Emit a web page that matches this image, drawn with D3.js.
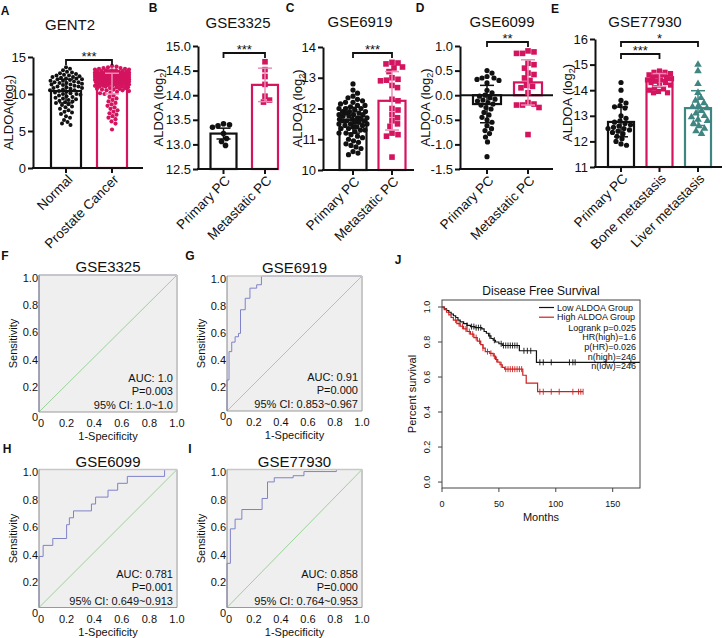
<!DOCTYPE html>
<html><head><meta charset="utf-8">
<script src="https://cdn.jsdelivr.net/npm/d3@7/dist/d3.min.js"></script>
<style>
body{margin:0;background:#fff;}
svg text{font-family:"Liberation Sans",Arial,Helvetica,sans-serif;fill:#111;}
</style></head><body>
<svg id="fig" width="726" height="638" xmlns="http://www.w3.org/2000/svg"></svg>
<script>
// ================= DATA =================
// Panel A – GENT2
const gentCats = ["Normal", "Prostate Cancer"];
const gentNormal = [13.6,13.4,13.2,13.0,12.9,12.8,12.7,12.6,12.5,12.5,12.4,12.3,12.3,12.2,12.1,12.1,12.0,12.0,11.9,11.8,11.8,11.7,11.6,11.6,11.5,11.5,11.4,11.3,11.3,11.2,11.1,11.0,11.0,10.9,10.8,10.8,10.7,10.6,10.5,10.5,10.4,10.3,10.2,10.1,10.0,10.0,9.9,9.8,9.7,9.6,9.5,9.4,9.3,9.2,9.1,9.0,8.9,8.8,8.6,8.5,8.3,8.2,8.0,7.8,7.6,7.5,7.3,7.0,6.8,6.5,6.2,6.0,5.8];
const gentCancer = [13.8,13.7,13.6,13.5,13.5,13.4,13.4,13.3,13.3,13.2,13.2,13.2,13.1,13.1,13.1,13.0,13.0,13.0,13.0,
12.9,12.9,12.9,12.9,12.8,12.8,12.8,12.8,12.8,12.7,12.7,12.7,12.7,12.7,12.7,
12.6,12.6,12.6,12.6,12.6,12.6,12.5,12.5,12.5,12.5,12.5,12.5,12.5,
12.4,12.4,12.4,12.4,12.4,12.4,12.4,12.3,12.3,12.3,12.3,12.3,12.3,12.3,
12.2,12.2,12.2,12.2,12.2,12.2,12.2,12.1,12.1,12.1,12.1,12.1,12.1,12.1,
12.0,12.0,12.0,12.0,12.0,12.0,11.9,11.9,11.9,11.9,11.9,11.9,
11.8,11.8,11.8,11.8,11.8,11.7,11.7,11.7,11.7,11.7,11.6,11.6,11.6,11.6,
11.5,11.5,11.5,11.5,11.4,11.4,11.4,11.4,11.3,11.3,11.3,11.2,11.2,11.2,11.1,11.1,11.1,11.0,11.0,11.0,
10.9,10.9,10.8,10.8,10.7,10.7,10.6,10.6,10.5,10.5,10.4,10.3,10.2,10.1,10.0,
9.8,9.6,9.4,9.2,9.0,8.8,8.6,8.4,8.2,8.0,7.8,7.6,7.4,7.2,7.0,6.8,6.6,6.3,6.0,5.2];
const gentMean = [10.4, 11.4];
const gentSD = [1.6, 1.4];
const gentTicks = [0, 5, 10, 15];

// Panel B – GSE3325
const pmCats = ["Primary PC", "Metastatic PC"];
const g3325Primary = [13.4,13.42,13.38,13.35,13.22,13.12,12.98,13.06];
const g3325Meta = [14.68,14.52,14.38,14.22,13.98,13.9,13.86];
const g3325Mean = [13.22, 14.21];
const g3325SD = [0.11, 0.34];
const g3325Ticks = [12.5, 13.0, 13.5, 14.0, 14.5, 15.0];

// Panel C – GSE6919
const g6919Primary = [12.8,12.6,12.5,12.4,12.35,12.3,12.25,12.2,12.2,12.15,12.1,12.1,12.05,12.0,12.0,12.0,11.95,11.9,11.9,11.9,11.85,11.85,11.8,11.8,11.8,11.75,11.75,11.7,11.7,11.7,11.65,11.65,11.6,11.6,11.6,11.55,11.55,11.5,11.5,11.5,11.45,11.45,11.4,11.4,11.35,11.35,11.3,11.3,11.25,11.2,11.2,11.15,11.1,11.05,11.0,10.95,10.9,10.85,10.8,10.75,10.7,10.6,10.55,10.5];
const g6919Meta = [13.5,13.48,13.45,13.35,13.32,13.2,13.0,12.95,12.92,12.9,12.75,12.68,12.3,12.25,12.0,11.95,11.8,11.7,11.6,11.5,11.42,11.2,11.15,11.1,10.42];
const g6919Mean = [11.62, 12.25];
const g6919SD = [0.42, 0.95];
const g6919Ticks = [10, 11, 12, 13, 14];

// Panel D – GSE6099
const g6099Primary = [0.5,0.45,0.38,0.35,0.35,0.32,0.3,0.25,0.1,0.05,0.0,-0.02,-0.05,-0.08,-0.1,-0.12,-0.15,-0.18,-0.2,-0.25,-0.28,-0.35,-0.4,-0.45,-0.5,-0.55,-0.62,-0.68,-0.72,-0.78,-0.85,-0.95,-1.25];
const g6099Meta = [0.9,0.88,0.85,0.85,0.65,0.62,0.55,0.45,0.42,0.35,0.3,0.2,0.18,0.15,0.05,-0.15,-0.18,-0.2,-0.2,-0.25,-0.8];
const g6099Mean = [-0.18, 0.26];
const g6099SD = [0.38, 0.46];
const g6099Ticks = [-1.5, -1.0, -0.5, 0.0, 0.5, 1.0];

// Panel E – GSE77930
const eCats = ["Primary PC", "Bone metastasis", "Liver metastasis"];
const g77930Primary = [14.3,14.0,13.6,13.5,13.4,13.35,13.3,13.0,12.9,12.8,12.75,12.7,12.65,12.6,12.55,12.5,12.5,12.45,12.4,12.35,12.3,12.2,12.1,12.0,11.9,11.85];
const g77930Bone = [14.75,14.7,14.7,14.65,14.6,14.6,14.55,14.5,14.5,14.45,14.4,14.4,14.35,14.3,14.3,14.2,14.2,14.1,14.05,14.0,13.95,13.9,13.9];
const g77930Liver = [15.0,14.75,14.25,13.9,13.7,13.6,13.5,13.4,13.35,13.3,13.2,13.1,13.0,12.95,12.85,12.8,12.7,12.6,12.5,12.4,12.3];
const g77930Mean = [12.76, 14.4, 13.3];
const g77930SD = [0.58, 0.25, 0.68];
const g77930Ticks = [11, 12, 13, 14, 15, 16];

// ROC panels
const rocTitles = ["GSE3325", "GSE6919", "GSE6099", "GSE77930"];
const rocF = [[0,0],[0,1],[1,1]];
const rocG = [[0,0],[0,0.23],[0.015,0.23],[0.015,0.44],[0.035,0.44],[0.035,0.51],[0.06,0.51],[0.06,0.55],[0.085,0.55],[0.085,0.575],[0.1,0.575],[0.1,0.75],[0.135,0.75],[0.135,0.835],[0.17,0.835],[0.17,0.91],[0.22,0.91],[0.22,0.935],[0.255,0.935],[0.255,1],[1,1]];
const rocH = [[0,0],[0,0.37],[0.03,0.37],[0.03,0.45],[0.1,0.45],[0.1,0.5],[0.2,0.5],[0.2,0.6],[0.22,0.6],[0.22,0.65],[0.25,0.65],[0.25,0.7],[0.38,0.7],[0.38,0.75],[0.41,0.75],[0.41,0.8],[0.5,0.8],[0.5,0.85],[0.57,0.85],[0.57,0.9],[0.64,0.9],[0.64,0.95],[0.91,0.95],[0.91,1],[1,1]];
const rocI = [[0,0],[0,0.32],[0.025,0.32],[0.025,0.57],[0.06,0.57],[0.06,0.64],[0.11,0.64],[0.11,0.71],[0.26,0.71],[0.26,0.79],[0.3,0.79],[0.3,0.91],[0.35,0.91],[0.35,0.94],[0.49,0.94],[0.49,0.955],[0.57,0.955],[0.57,0.985],[0.81,0.985],[0.81,1],[1,1]];
const rocAUC = ["AUC: 1.0", "AUC: 0.91", "AUC: 0.781", "AUC: 0.858"];
const rocP = ["P=0.003", "P=0.000", "P=0.001", "P=0.000"];
const rocCI = ["95% CI: 1.0~1.0", "95% CI: 0.853~0.967", "95% CI: 0.649~0.913", "95% CI: 0.764~0.953"];
const rocTicks = [0, 0.2, 0.4, 0.6, 0.8, 1.0];

// Survival panel J
const survLow = [[0,1.0],[2,0.99],[4,0.98],[6,0.97],[8,0.96],[10,0.95],[12,0.94],[14,0.925],[16,0.915],[19,0.905],[22,0.895],[25,0.888],[29,0.882],[35,0.875],[37,0.86],[39,0.85],[41,0.835],[43,0.82],[45,0.81],[47,0.8],[50,0.79],[53,0.78],[68,0.75],[83,0.684],[174,0.684]];
const survHigh = [[0,1.0],[2,0.985],[4,0.97],[6,0.955],[8,0.94],[10,0.925],[13,0.905],[16,0.89],[19,0.875],[22,0.86],[25,0.845],[28,0.825],[31,0.805],[34,0.785],[36,0.765],[38,0.745],[42,0.735],[45,0.72],[47,0.7],[49,0.685],[51,0.67],[53,0.655],[55,0.645],[71,0.61],[74,0.565],[84,0.516],[124,0.516]];
const censorLow = [22,26,28,30,32,34,42,46,52,54,56,58,60,62,64,66,72,75,78,86,89,96,112,115,117,144,166];
const censorHigh = [12,15,18,21,24,27,30,33,36,40,43,46,48,52,56,58,60,62,64,66,68,70,86,89,96,103,115,120,122,124];
const survTicksX = [0, 50, 100, 150];
const survTicksY = [0, 0.2, 0.4, 0.6, 0.8, 1.0];
const survLegend = ["Low ALDOA Group", "High ALDOA Group"];
const survStats = ["Logrank p=0.025", "HR(high)=1.6", "p(HR)=0.026", "n(high)=246", "n(low)=246"];

// ================= DRAWING =================
const svg = d3.select('#fig');
const PINK = '#d4145f', PINK_LT = '#ea8fb7', TEAL = '#3f8682', BLK = '#111';

function swarm(vals, y, cx, rad, maxHalf) {
  const pts = vals.map(v => ({v, py: y(v)})).sort((a, b) => a.py - b.py);
  const placed = [];
  const cands = [0];
  for (let k = 0.5; k <= maxHalf; k += 0.5) cands.push(k, -k);
  const minD = 2 * rad;
  pts.forEach(p => {
    const near = placed.filter(q => Math.abs(q.py - p.py) < minD);
    let chosen = null, bestScore = -1, bestOff = 0;
    for (const off of cands) {
      let md = Infinity;
      for (const q of near) { const d = Math.hypot(q.dx - off, q.py - p.py); if (d < md) md = d; }
      if (md >= minD) { chosen = off; break; }
      if (md > bestScore + 0.01) { bestScore = md; bestOff = off; }
    }
    p.dx = chosen === null ? bestOff : chosen;
    p.px = cx + p.dx;
    placed.push(p);
  });
  return pts;
}

function drawMarks(g, pts, shape, color, s) {
  if (shape === 'circle') {
    g.selectAll(null).data(pts).join('circle').attr('cx', d => d.px).attr('cy', d => d.py).attr('r', s).attr('fill', color);
  } else if (shape === 'square') {
    g.selectAll(null).data(pts).join('rect').attr('x', d => d.px - s).attr('y', d => d.py - s).attr('width', 2 * s).attr('height', 2 * s).attr('fill', color);
  } else {
    const sym = d3.symbol().type(d3.symbolTriangle).size(s * s * 3.2);
    g.selectAll(null).data(pts).join('path').attr('transform', d => `translate(${d.px},${d.py})`).attr('d', sym).attr('fill', color);
  }
}

function barPanel(o) {
  const g = svg.append('g');
  const y = d3.scaleLinear().domain(o.domain).range([o.yb, o.yt]);
  const x = d3.scalePoint().domain(o.cats).range(o.cx);
  const base = o.base !== undefined ? o.base : o.domain[0];
  o.cats.forEach((c, i) => {
    const m = o.means[i];
    g.append('rect').attr('x', x(c) - o.bw / 2).attr('y', Math.min(y(m), y(base)))
      .attr('width', o.bw).attr('height', Math.abs(y(m) - y(base)))
      .attr('fill', '#fff').attr('stroke', o.colors[i]).attr('stroke-width', 2.2);
  });
  if (o.base !== undefined) {
    g.append('line').attr('x1', o.ax).attr('x2', o.axEnd).attr('y1', y(0)).attr('y2', y(0)).attr('stroke', BLK).attr('stroke-width', 2);
  }
  o.cats.forEach((c, i) => {
    const pts = swarm(o.vals[i], y, x(c), o.rad[i] * (o.shapes[i] === 'circle' ? 1 : 1.05), o.spread[i]);
    drawMarks(g, pts, o.shapes[i], o.colors[i], o.rad[i]);
  });
  o.cats.forEach((c, i) => {
    const m = o.means[i], s = o.sds[i], cxv = x(c), col = o.ebColors[i];
    g.append('line').attr('x1', cxv).attr('x2', cxv).attr('y1', y(m - s)).attr('y2', y(m + s)).attr('stroke', col).attr('stroke-width', 1.5);
    [m - s, m + s].forEach(v => g.append('line').attr('x1', cxv - 7).attr('x2', cxv + 7).attr('y1', y(v)).attr('y2', y(v)).attr('stroke', col).attr('stroke-width', 1.5));
  });
  const ax = d3.axisLeft(y).tickValues(o.ticks).tickFormat(o.fmt).tickSize(5).tickSizeOuter(0).tickPadding(2);
  const ga = g.append('g').attr('transform', `translate(${o.ax},0)`).call(ax);
  ga.select('.domain').attr('stroke', BLK).attr('stroke-width', 2);
  ga.selectAll('.tick line').attr('stroke', BLK).attr('stroke-width', 2);
  ga.selectAll('.tick text').attr('font-size', 13).attr('font-family', '"Liberation Sans",Arial,sans-serif').attr('fill', BLK);
  g.append('line').attr('x1', o.ax - 1).attr('x2', o.axEnd).attr('y1', o.yb).attr('y2', o.yb).attr('stroke', BLK).attr('stroke-width', 2);
  o.cats.forEach(c => {
    g.append('line').attr('x1', x(c)).attr('x2', x(c)).attr('y1', o.yb).attr('y2', o.yb + 5).attr('stroke', BLK).attr('stroke-width', 2);
    g.append('text').attr('transform', `translate(${x(c) + 4},${o.yb + 9}) rotate(-45)`)
      .attr('text-anchor', 'end').attr('dy', '0.35em').attr('font-size', 13.5).text(c);
  });
  g.append('text').attr('x', o.titleX).attr('y', o.titleY).attr('text-anchor', 'middle').attr('font-size', 15).text(o.title);
  const yl = g.append('text').attr('transform', `translate(${o.ylX},${(o.yb + o.yt) / 2}) rotate(-90)`).attr('text-anchor', 'middle').attr('font-size', 13);
  yl.append('tspan').text(o.ylText);
  yl.append('tspan').attr('dy', 3).attr('font-size', 9).text('2');
  yl.append('tspan').attr('dy', -3).text(')');
  o.brackets.forEach(b => {
    const x1 = x(o.cats[b[0]]), x2 = x(o.cats[b[1]]), by = b[2];
    g.append('path').attr('d', `M${x1},${by + 5}V${by}H${x2}V${by + 5}`).attr('fill', 'none').attr('stroke', BLK).attr('stroke-width', 1.8);
    g.append('text').attr('x', (x1 + x2) / 2).attr('y', by + 0.5).attr('text-anchor', 'middle').attr('font-size', 13).text(b[3]);
  });
}

const f1 = d => d.toFixed(1), fd = d3.format('d');

barPanel({cats: gentCats, vals: [gentNormal, gentCancer], means: gentMean, sds: gentSD, domain: [0, 15], yb: 168, yt: 57,
  cx: [66, 112], bw: 30, ax: 33, axEnd: 143, ticks: gentTicks, fmt: fd, colors: [BLK, PINK], ebColors: [BLK, PINK_LT],
  shapes: ['circle', 'circle'], rad: [2.0, 2.1], spread: [16, 17], title: 'GENT2', titleX: 70, titleY: 30,
  ylX: 12.5, ylText: 'ALDOA(log', brackets: [[0, 1, 60, '***']]});

barPanel({cats: pmCats, vals: [g3325Primary, g3325Meta], means: g3325Mean, sds: g3325SD, domain: [12.5, 15], yb: 169, yt: 46,
  cx: [223.5, 265], bw: 26, ax: 198, axEnd: 278, ticks: g3325Ticks, fmt: f1, colors: [BLK, PINK], ebColors: [BLK, PINK_LT],
  shapes: ['circle', 'square'], rad: [2.8, 2.8], spread: [13, 12], title: 'GSE3325', titleX: 238, titleY: 28,
  ylX: 162.5, ylText: 'ALDOA (log', brackets: [[0, 1, 53, '***']]});

barPanel({cats: pmCats, vals: [g6919Primary, g6919Meta], means: g6919Mean, sds: g6919SD, domain: [10, 14], yb: 170, yt: 47,
  cx: [353, 392], bw: 27, ax: 323, axEnd: 414, ticks: g6919Ticks, fmt: fd, colors: [BLK, PINK], ebColors: [BLK, PINK_LT],
  shapes: ['circle', 'square'], rad: [2.6, 2.8], spread: [14, 13], title: 'GSE6919', titleX: 360, titleY: 27,
  ylX: 301.5, ylText: 'ALDOA (log', brackets: [[0, 1, 53, '***']]});

barPanel({cats: pmCats, vals: [g6099Primary, g6099Meta], means: g6099Mean, sds: g6099SD, domain: [-1.5, 1.0], yb: 169, yt: 46, base: 0,
  cx: [487, 528], bw: 28, ax: 460, axEnd: 553, ticks: g6099Ticks, fmt: f1, colors: [BLK, PINK], ebColors: [BLK, PINK_LT],
  shapes: ['circle', 'square'], rad: [2.6, 2.8], spread: [14, 13], title: 'GSE6099', titleX: 502, titleY: 27,
  ylX: 429.5, ylText: 'ALDOA (log', brackets: [[0, 1, 42, '**']]});

barPanel({cats: eCats, vals: [g77930Primary, g77930Bone, g77930Liver], means: g77930Mean, sds: g77930SD, domain: [11, 16], yb: 167, yt: 39,
  cx: [621, 698], bw: 26, ax: 595, axEnd: 722, ticks: g77930Ticks, fmt: fd, colors: [BLK, PINK, TEAL], ebColors: [BLK, PINK_LT, TEAL],
  shapes: ['circle', 'square', 'triangle'], rad: [2.6, 2.6, 2.8], spread: [13, 12, 12], title: 'GSE77930', titleX: 645, titleY: 27,
  ylX: 571.5, ylText: 'ALDOA (log', brackets: [[0, 2, 42, '*'], [0, 1, 54, '***']]});

// ---- ROC panels ----
function rocPanel(o) {
  const g = svg.append('g');
  const x = d3.scaleLinear().domain([0, 1]).range([o.x0, o.x1]);
  const y = d3.scaleLinear().domain([0, 1]).range([o.y1, o.y0]);
  g.append('rect').attr('x', o.x0).attr('y', o.y0).attr('width', o.x1 - o.x0).attr('height', o.y1 - o.y0).attr('fill', '#efefef');
  const line = d3.line().x(d => x(d[0])).y(d => y(d[1]));
  g.append('path').attr('d', line([[0, 0], [1, 1]])).attr('stroke', '#8fd08f').attr('stroke-width', 0.9).attr('fill', 'none');
  g.append('path').attr('d', line(o.pts)).attr('stroke', '#7f82c8').attr('stroke-width', 1).attr('fill', 'none');
  g.append('line').attr('x1', o.x0).attr('x2', o.x1).attr('y1', o.y0).attr('y2', o.y0).attr('stroke', '#c8c8c8').attr('stroke-width', 1.5);
  g.append('line').attr('x1', o.x1).attr('x2', o.x1).attr('y1', o.y0).attr('y2', o.y1).attr('stroke', '#c8c8c8').attr('stroke-width', 2);
  g.append('line').attr('x1', o.x0).attr('x2', o.x0).attr('y1', o.y0).attr('y2', o.y1).attr('stroke', '#888').attr('stroke-width', 1);
  g.append('line').attr('x1', o.x0).attr('x2', o.x1).attr('y1', o.y1).attr('y2', o.y1).attr('stroke', '#999').attr('stroke-width', 1);
  rocTicks.forEach(t => {
    const lab = t === 0 ? '0' : t.toFixed(1);
    g.append('text').attr('x', o.x0 - 1).attr('y', y(t) + (t === 0 ? 9 : 6.5)).attr('text-anchor', 'end').attr('font-size', 11).text(lab);
    g.append('text').attr('x', x(t) + (t === 0 ? 2 : 0)).attr('y', o.y1 + 15).attr('text-anchor', 'middle').attr('font-size', 11).text(lab);
  });
  g.append('text').attr('x', (o.x0 + o.x1) / 2).attr('y', o.y0 - 3).attr('text-anchor', 'middle').attr('font-size', 15).text(o.title);
  g.append('text').attr('transform', `translate(${o.x0 - 22},${(o.y0 + o.y1) / 2}) rotate(-90)`).attr('text-anchor', 'middle').attr('font-size', 11).text('Sensitivity');
  g.append('text').attr('x', (o.x0 + o.x1) / 2).attr('y', o.y1 + 28).attr('text-anchor', 'middle').attr('font-size', 11).text('1-Specificity');
  [[o.auc, 30], [o.p, 17], [o.ci, 3]].forEach(([t, off]) =>
    g.append('text').attr('x', o.x1 - 4).attr('y', o.y1 - off).attr('text-anchor', 'end').attr('font-size', 11).text(t));
}
const rocFrames = [[39, 177, 275, 412], [227, 362, 276, 411], [39, 177, 469.5, 607.5], [227, 362, 469.5, 607.5]];
[rocF, rocG, rocH, rocI].forEach((pts, i) => {
  const f = rocFrames[i];
  rocPanel({x0: f[0], x1: f[1], y0: f[2], y1: f[3], pts, title: rocTitles[i], auc: rocAUC[i], p: rocP[i], ci: rocCI[i]});
});

// ---- Survival panel J ----
(function () {
  const g = svg.append('g');
  const x0 = 442, x1 = 640, y0 = 300, y1 = 488;
  const x = d3.scaleLinear().domain([0, 174]).range([x0, x1]);
  const y = d3.scaleLinear().domain([-0.034, 1.04]).range([y1, y0]);
  const step = d3.line().x(d => x(d[0])).y(d => y(d[1])).curve(d3.curveStepAfter);
  const sAt = (arr, t) => { let s = arr[0][1]; arr.forEach(d => { if (d[0] <= t) s = d[1]; }); return s; };
  [[survLow, censorLow, '#111'], [survHigh, censorHigh, '#cc2020']].forEach(([arr, cens, col]) => {
    g.append('path').attr('d', step(arr)).attr('fill', 'none').attr('stroke', col).attr('stroke-width', 1.2);
    cens.forEach(t => {
      const yy = y(sAt(arr, t));
      g.append('line').attr('x1', x(t)).attr('x2', x(t)).attr('y1', yy - 3).attr('y2', yy + 3).attr('stroke', col).attr('stroke-width', 0.9);
    });
  });
  g.append('rect').attr('x', x0).attr('y', y0).attr('width', x1 - x0).attr('height', y1 - y0).attr('fill', 'none').attr('stroke', '#444').attr('stroke-width', 1);
  survTicksX.forEach(t => {
    g.append('line').attr('x1', x(t)).attr('x2', x(t)).attr('y1', y1).attr('y2', y1 + 4).attr('stroke', '#444');
    g.append('text').attr('x', x(t)).attr('y', y1 + 19).attr('text-anchor', 'middle').attr('font-size', 9).text(t);
  });
  survTicksY.forEach(t => {
    g.append('line').attr('x1', x0 - 4).attr('x2', x0).attr('y1', y(t)).attr('y2', y(t)).attr('stroke', '#444');
    g.append('text').attr('transform', `translate(${x0 - 12},${y(t)}) rotate(-90)`).attr('text-anchor', 'middle').attr('font-size', 9).text(t.toFixed(1));
  });
  g.append('text').attr('x', (x0 + x1) / 2).attr('y', y1 + 33).attr('text-anchor', 'middle').attr('font-size', 11).text('Months');
  g.append('text').attr('transform', `translate(${x0 - 26},${(y0 + y1) / 2}) rotate(-90)`).attr('text-anchor', 'middle').attr('font-size', 11).text('Percent survival');
  g.append('text').attr('x', (x0 + x1) / 2).attr('y', y0 - 5).attr('text-anchor', 'middle').attr('font-size', 12).text('Disease Free Survival');
  const legCols = ['#111', '#cc2020'];
  survLegend.forEach((t, i) => {
    const ly = 307.5 + i * 9.7;
    g.append('line').attr('x1', 539).attr('x2', 554).attr('y1', ly).attr('y2', ly).attr('stroke', legCols[i]).attr('stroke-width', 1.2);
    g.append('text').attr('x', 557).attr('y', ly + 3.2).attr('font-size', 9).text(t);
  });
  survStats.forEach((t, i) => {
    g.append('text').attr('x', 636).attr('y', 330.5 + i * 9.7).attr('text-anchor', 'end').attr('font-size', 9).text(t);
  });
})();

// ---- Panel letters ----
const letters = [['A', 5, 10], ['B', 153, 7], ['C', 290, 7], ['D', 420, 7], ['E', 555, 8], ['F', 5, 255], ['G', 190, 255], ['H', 7, 448], ['I', 190, 448], ['J', 398, 259]];
letters.forEach(([t, lx, ly]) => svg.append('text').attr('x', lx).attr('y', ly + 4.5).attr('text-anchor', 'middle').attr('font-size', 12).attr('font-weight', 'bold').text(t));
</script>
</body></html>
